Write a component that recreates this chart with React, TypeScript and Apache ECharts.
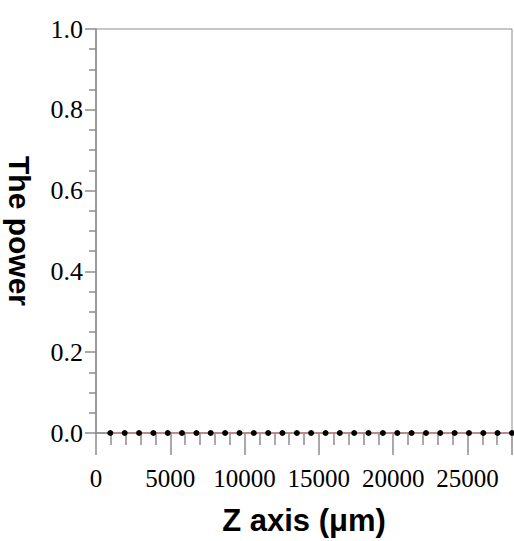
import React, { useEffect, useRef } from "react";
import * as echarts from "echarts";

const zValues = [965, 1930, 2900, 3860, 4830, 5790, 6760, 7720, 8690, 9660, 10620, 11590, 12550, 13520, 14480, 15450, 16410, 17380, 18340, 19310, 20280, 21240, 22210, 23170, 24140, 25100, 26070, 27030, 28000];
const powerValues = [0, 0, 0, 0, 0, 0, 0, 0, 0, 0, 0, 0, 0, 0, 0, 0, 0, 0, 0, 0, 0, 0, 0, 0, 0, 0, 0, 0, 0];

const labelFont = "'Liberation Serif', 'Times New Roman', serif";

export default function App() {
  const ref = useRef<HTMLDivElement>(null);
  useEffect(() => {
    if (!ref.current) return;
    const chart = echarts.init(ref.current, undefined, { renderer: "svg" });
    const data = zValues.map((z, i) => [z, powerValues[i]]);
    chart.setOption({
      animation: false,
      backgroundColor: "#ffffff",
      grid: { left: 96, top: 29, right: 2, bottom: 108, show: true, borderColor: "#8c8c8c", borderWidth: 1, containLabel: false, outerBoundsMode: "none" },
      xAxis: {
        type: "value",
        min: 0,
        max: 28000,
        interval: 5000,
        name: "Z axis (μm)",
        nameLocation: "middle",
        nameGap: 72,
        nameMoveOverlap: false,
        nameTextStyle: { fontFamily: "'Liberation Sans', Arial, sans-serif", fontWeight: "bold", fontSize: 31, color: "#000" },
        axisLine: { show: true, lineStyle: { color: "#8c8c8c", width: 1.5 } },
        axisTick: { show: true, inside: false, length: 22, lineStyle: { color: "#8c8c8c", width: 1.5 } },
        minorTick: { show: true, splitNumber: 5, length: 12, lineStyle: { color: "#8c8c8c", width: 1.5 } },
        splitLine: { show: false },
        axisLabel: { fontFamily: labelFont, fontSize: 25, color: "#000", margin: 33, showMaxLabel: false, formatter: (v: number) => String(v) },
      },
      yAxis: {
        type: "value",
        min: 0,
        max: 1,
        interval: 0.2,
        name: "The power",
        nameLocation: "middle",
        nameRotate: -90,
        nameGap: 62,
        nameMoveOverlap: false,
        nameTextStyle: { fontFamily: "'Liberation Sans', Arial, sans-serif", fontWeight: "bold", fontSize: 30, color: "#000" },
        axisLine: { show: true, lineStyle: { color: "#8c8c8c", width: 1.5 } },
        axisTick: { show: true, length: 11, lineStyle: { color: "#8c8c8c", width: 1.5 } },
        minorTick: { show: true, splitNumber: 4, length: 7, lineStyle: { color: "#8c8c8c", width: 1.5 } },
        splitLine: { show: false },
        axisLabel: { fontFamily: labelFont, fontSize: 26, color: "#000", margin: 13, formatter: (v: number) => v.toFixed(1) },
      },
      series: [
        {
          type: "line",
          data,
          clip: false,
          lineStyle: { color: "#e07a7a", width: 1 },
          symbol: "circle",
          symbolSize: 6,
          itemStyle: { color: "#000" },
        },
      ],
    });
    return () => chart.dispose();
  }, []);
  return <div ref={ref} style={{ width: 514, height: 541, position: "absolute", left: 0, top: 0 }} />;
}
